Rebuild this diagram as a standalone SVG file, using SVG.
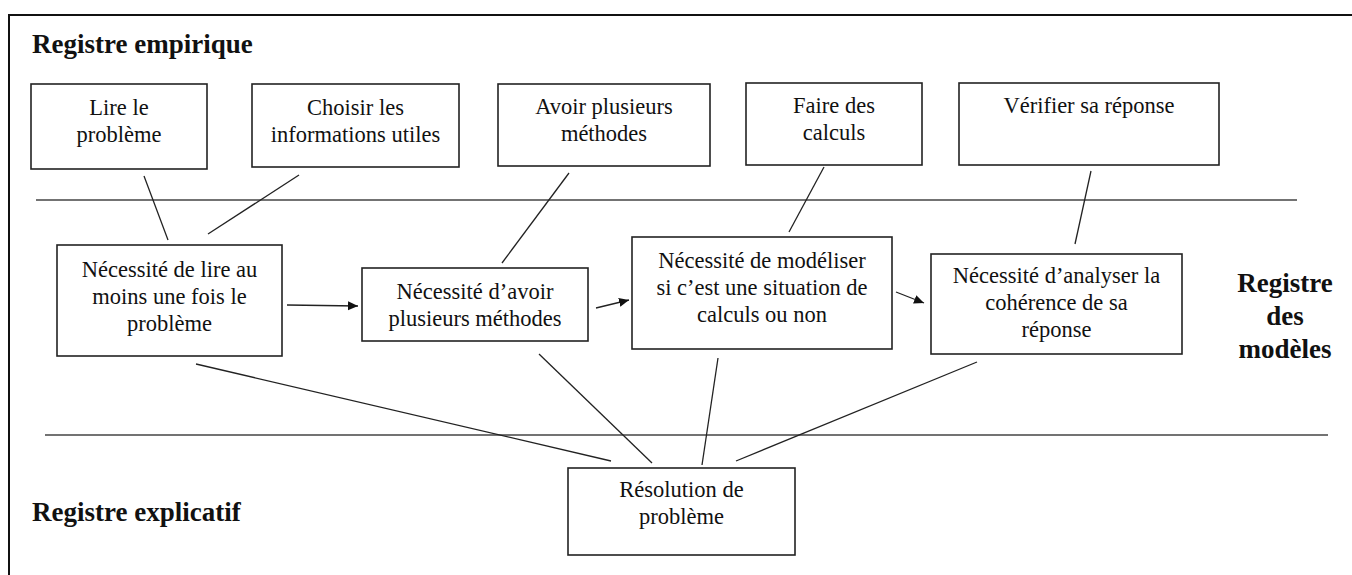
<svg xmlns="http://www.w3.org/2000/svg" width="1352" height="575" viewBox="0 0 1352 575">
<defs>
<marker id="arr" viewBox="0 0 10 10" refX="10" refY="5" markerWidth="10" markerHeight="10" markerUnits="userSpaceOnUse" orient="auto">
<path d="M0,0.5 L10,5 L0,9.5 Z" fill="#111"/>
</marker>
<style>
.frame{fill:none;stroke:#111;stroke-width:2}
.box{fill:#fff;stroke:#222;stroke-width:1.6}
.sep{stroke:#444;stroke-width:1.4}
.ln{stroke:#222;stroke-width:1.3;fill:none}
.t{font-family:'Liberation Serif','Tinos','DejaVu Serif',serif;font-size:22.5px;fill:#111;text-anchor:middle}
.h{font-family:'Liberation Serif','Tinos','DejaVu Serif',serif;font-size:27px;font-weight:bold;fill:#111}
</style>
</defs>
<rect width="1352" height="575" fill="#fff"/>
<path class="frame" d="M9,575 L9,15 L1352,15"/>
<line class="sep" x1="36" y1="200" x2="1297" y2="200"/>
<line class="sep" x1="45" y1="435" x2="1328" y2="435"/>
<text class="h" x="32" y="53">Registre empirique</text>
<text class="h" x="32" y="521">Registre explicatif</text>
<text class="h" x="1285" y="292" text-anchor="middle">Registre</text>
<text class="h" x="1285" y="325" text-anchor="middle">des</text>
<text class="h" x="1285" y="358" text-anchor="middle">modèles</text>
<g id="connectors">
<line class="ln" x1="144" y1="176" x2="168" y2="240"/>
<line class="ln" x1="299" y1="175" x2="208" y2="234"/>
<line class="ln" x1="569" y1="173" x2="502" y2="263"/>
<line class="ln" x1="824" y1="167" x2="789" y2="232"/>
<line class="ln" x1="1091" y1="171" x2="1075" y2="244"/>
<line class="ln" x1="196" y1="364" x2="611" y2="461"/>
<line class="ln" x1="539" y1="354" x2="652" y2="463"/>
<line class="ln" x1="718" y1="358" x2="702" y2="465"/>
<line class="ln" x1="977" y1="362" x2="736" y2="461"/>
<line class="ln" x1="287" y1="305" x2="358" y2="306" marker-end="url(#arr)"/>
<line class="ln" x1="596" y1="308" x2="629" y2="300" marker-end="url(#arr)"/>
<line class="ln" x1="896" y1="292" x2="924" y2="303" marker-end="url(#arr)"/>
</g>
<g id="n1"><rect class="box" x="31" y="84" width="176" height="85"/><text class="t" x="119" y="115">Lire le</text><text class="t" x="119" y="142">problème</text></g>
<g id="n2"><rect class="box" x="252" y="84" width="207" height="83"/><text class="t" x="355.5" y="115">Choisir les</text><text class="t" x="355.5" y="142">informations utiles</text></g>
<g id="n3"><rect class="box" x="498" y="84" width="212" height="82"/><text class="t" x="604" y="114">Avoir plusieurs</text><text class="t" x="604" y="141">méthodes</text></g>
<g id="n4"><rect class="box" x="746" y="83" width="176" height="82"/><text class="t" x="834" y="113">Faire des</text><text class="t" x="834" y="140">calculs</text></g>
<g id="n5"><rect class="box" x="959" y="83" width="260" height="82"/><text class="t" x="1089" y="113">Vérifier sa réponse</text></g>
<g id="n6"><rect class="box" x="57" y="245" width="225" height="111"/><text class="t" x="169.5" y="277">Nécessité de lire au</text><text class="t" x="169.5" y="304">moins une fois le</text><text class="t" x="169.5" y="331">problème</text></g>
<g id="n7"><rect class="box" x="362" y="268" width="226" height="73"/><text class="t" x="475" y="299">Nécessité d’avoir</text><text class="t" x="475" y="326">plusieurs méthodes</text></g>
<g id="n8"><rect class="box" x="632" y="237" width="260" height="112"/><text class="t" x="762" y="268">Nécessité de modéliser</text><text class="t" x="762" y="295">si c’est une situation de</text><text class="t" x="762" y="322">calculs ou non</text></g>
<g id="n9"><rect class="box" x="931" y="254" width="251" height="100"/><text class="t" x="1056.5" y="283">Nécessité d’analyser la</text><text class="t" x="1056.5" y="310">cohérence de sa</text><text class="t" x="1056.5" y="337">réponse</text></g>
<g id="n10"><rect class="box" x="568" y="468" width="227" height="87"/><text class="t" x="681.5" y="497">Résolution de</text><text class="t" x="681.5" y="524">problème</text></g>
</svg>
